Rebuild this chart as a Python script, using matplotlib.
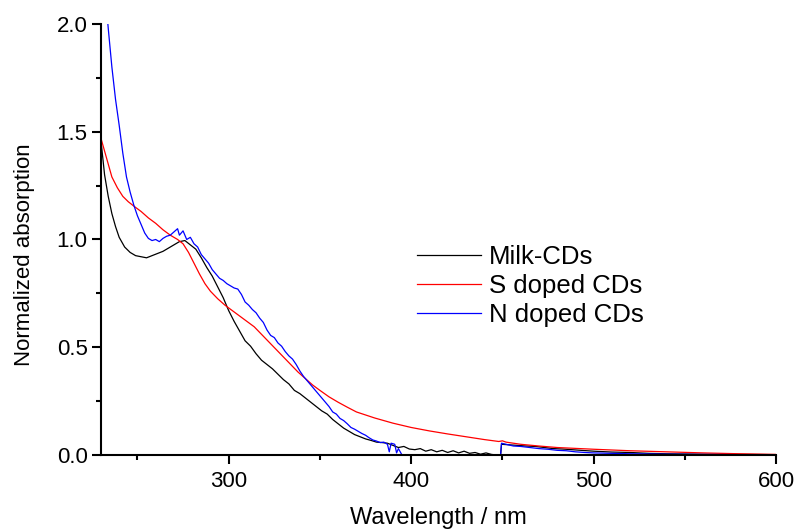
import numpy as np
import matplotlib.pyplot as plt
from matplotlib.ticker import MultipleLocator

plt.rcParams['font.family'] = ['Liberation Sans', 'DejaVu Sans']

# Milk-CDs (black)
milk_x = [230, 232, 234, 236, 238, 240, 243, 246, 249, 252, 255, 258, 261, 264, 267, 270,
          273, 276, 279, 282, 285, 288, 291, 294, 297, 300, 303, 306, 309, 312, 315, 318,
          321, 324, 327, 330, 333, 336, 339, 342, 345, 348, 351, 354, 357, 360, 363, 366,
          369, 372, 375, 378, 381, 384, 387, 390, 393, 396, 399, 402, 405, 408, 411, 414,
          417, 420, 423, 426, 429, 432, 435, 438, 441, 444, 447, 449, 449.5, 453, 458, 463,
          468, 473, 478, 483, 488, 493, 500, 510, 520, 530, 540, 560, 580, 600]
milk_y = [1.46, 1.30, 1.20, 1.12, 1.06, 1.01, 0.965, 0.94, 0.925, 0.92, 0.915, 0.925, 0.935,
          0.945, 0.96, 0.975, 0.99, 0.995, 0.975, 0.955, 0.915, 0.87, 0.83, 0.78, 0.73, 0.67,
          0.62, 0.575, 0.53, 0.505, 0.47, 0.44, 0.42, 0.40, 0.375, 0.35, 0.33, 0.30, 0.285,
          0.265, 0.245, 0.225, 0.205, 0.19, 0.165, 0.145, 0.125, 0.11, 0.095, 0.085, 0.075,
          0.068, 0.06, 0.058, 0.055, 0.045, 0.035, 0.04, 0.028, 0.025, 0.03, 0.018, 0.025,
          0.015, 0.022, 0.012, 0.02, 0.01, 0.018, 0.008, 0.012, 0.004, 0.01, 0.003, 0.0, 0.0,
          0.05, 0.048, 0.045, 0.042, 0.04, 0.035, 0.03, 0.028, 0.025, 0.022, 0.018, 0.014,
          0.012, 0.008, 0.006, 0.004, 0.003, 0.002]

# S doped CDs (red)
s_x = [230, 233, 236, 239, 242, 245, 248, 252, 256, 260, 264, 268, 272, 275, 278, 281, 284,
       287, 290, 294, 298, 302, 306, 310, 314, 318, 322, 326, 330, 334, 338, 342, 346, 350,
       355, 360, 365, 370, 380, 390, 400, 410, 420, 430, 440, 448, 450, 452, 460, 470, 480,
       500, 520, 540, 560, 580, 600]
s_y = [1.47, 1.38, 1.29, 1.24, 1.20, 1.175, 1.155, 1.13, 1.10, 1.075, 1.045, 1.02, 1.0, 0.98,
       0.94, 0.89, 0.84, 0.795, 0.76, 0.725, 0.695, 0.67, 0.645, 0.62, 0.595, 0.56, 0.525,
       0.49, 0.455, 0.42, 0.385, 0.355, 0.325, 0.30, 0.27, 0.245, 0.222, 0.20, 0.172, 0.148,
       0.128, 0.112, 0.098, 0.085, 0.072, 0.063, 0.066, 0.06, 0.05, 0.042, 0.035, 0.027,
       0.02, 0.015, 0.01, 0.006, 0.003]

# N doped CDs (blue)
n_x = [230, 232, 234, 236, 238, 240, 242, 244, 246, 248, 250, 252, 254, 256, 258, 260, 262,
       264, 266, 268, 270, 272, 273, 275, 277, 279, 281, 283, 285, 287, 289, 291, 293, 295,
       297, 299, 301, 303, 305, 307, 309, 311, 313, 315, 317, 319, 321, 323, 325, 327, 329,
       331, 333, 335, 337, 339, 341, 343, 345, 347, 349, 351, 353, 355, 357, 359, 361, 363,
       365, 367, 369, 371, 373, 375, 377, 379, 381, 383, 385, 387, 388, 389, 391, 392, 393,
       395, 449, 449.5, 452, 456, 460, 465, 470, 475, 480, 485, 490, 495, 500, 510, 520, 540,
       560, 580, 600]
n_y = [2.35, 2.18, 1.98, 1.80, 1.65, 1.53, 1.40, 1.29, 1.22, 1.16, 1.11, 1.07, 1.03, 1.005,
       0.995, 1.0, 0.99, 1.005, 1.015, 1.02, 1.035, 1.05, 1.02, 1.04, 1.00, 1.01, 0.98, 0.965,
       0.93, 0.91, 0.89, 0.86, 0.84, 0.82, 0.81, 0.795, 0.785, 0.775, 0.77, 0.745, 0.71,
       0.695, 0.675, 0.66, 0.635, 0.615, 0.58, 0.555, 0.545, 0.52, 0.505, 0.48, 0.46, 0.445,
       0.42, 0.39, 0.365, 0.345, 0.325, 0.305, 0.285, 0.265, 0.245, 0.225, 0.2, 0.19, 0.17,
       0.16, 0.145, 0.128, 0.12, 0.11, 0.1, 0.092, 0.08, 0.07, 0.065, 0.058, 0.06, 0.05,
       0.015, 0.055, 0.05, 0.01, 0.03, 0.0, 0.0, 0.055, 0.05, 0.042, 0.04, 0.035, 0.03, 0.027,
       0.022, 0.02, 0.015, 0.012, 0.01, 0.008, 0.006, 0.004, 0.003, 0.002, 0.002]

fig = plt.figure(figsize=(8.01, 5.31), dpi=100)
ax = fig.add_axes([0.126, 0.143, 0.843, 0.812])

ax.plot(milk_x, milk_y, color='black', lw=0.9, label='Milk-CDs')
ax.plot(s_x, s_y, color='red', lw=0.9, label='S doped CDs')
ax.plot(n_x, n_y, color='blue', lw=0.9, label='N doped CDs')

ax.set_xlim(230, 600)
ax.set_ylim(0, 2.0)
ax.xaxis.set_major_locator(MultipleLocator(100))
ax.xaxis.set_minor_locator(MultipleLocator(50))
ax.yaxis.set_major_locator(MultipleLocator(0.5))
ax.yaxis.set_minor_locator(MultipleLocator(0.25))
ax.yaxis.set_major_formatter(plt.FormatStrFormatter('%.1f'))

for s in ['top', 'right']:
    ax.spines[s].set_visible(False)
for s in ['left', 'bottom']:
    ax.spines[s].set_linewidth(1.5)
ax.tick_params(which='major', direction='out', length=6.5, width=1.5, labelsize=16)
ax.tick_params(axis='x', which='major', pad=5)
ax.tick_params(axis='y', which='major', pad=3)
ax.tick_params(which='minor', direction='out', length=3.5, width=1.5)

ax.set_xlabel('Wavelength / nm', fontsize=17, va='baseline')
ax.xaxis.set_label_coords(0.5, -0.159)
ax.set_ylabel('Normalized absorption', fontsize=16)
ax.yaxis.set_label_coords(-0.098, 0.464)

ax.legend(loc='upper left', bbox_to_anchor=(417 / 801, 1 - 245 / 531),
          bbox_transform=fig.transFigure, frameon=False, fontsize=18.5,
          handlelength=2.5, handletextpad=0.3, labelspacing=0.2,
          borderpad=0, borderaxespad=0)

plt.savefig('out.png', dpi=100)
